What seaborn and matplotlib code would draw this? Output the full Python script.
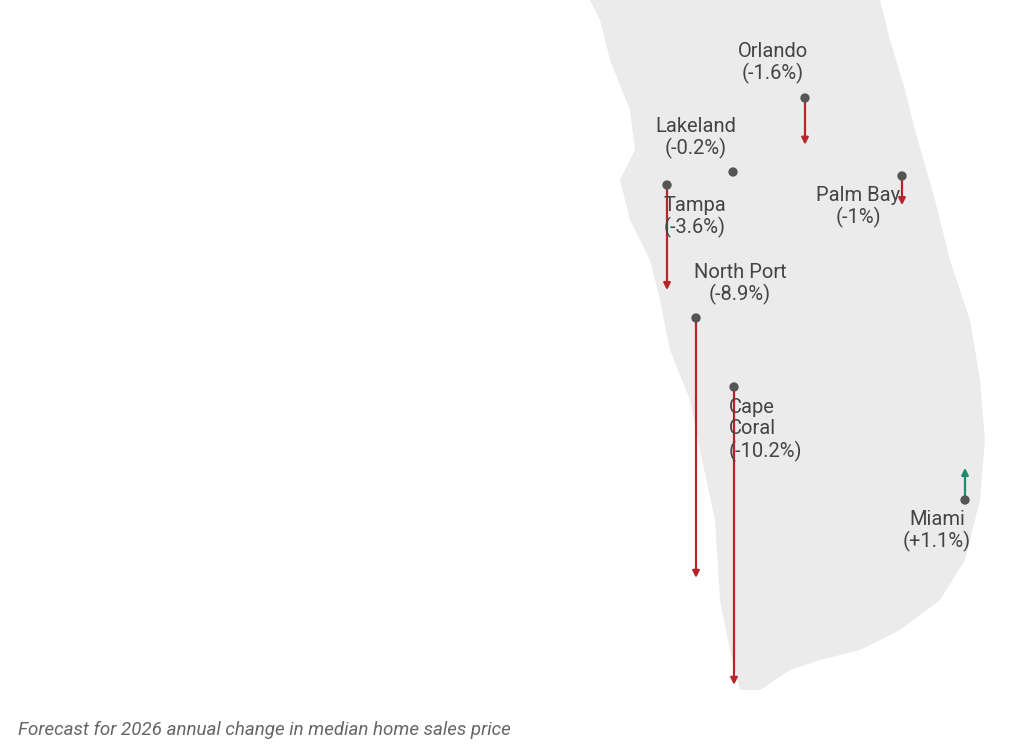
import numpy as np
import pandas as pd
import seaborn as sns
import matplotlib.pyplot as plt
from matplotlib.patches import Polygon

# city data (positions in image pixel space, change in %)
cities = ["Orlando", "Lakeland", "Tampa", "Palm Bay", "North Port", "Cape Coral", "Miami"]
labels = ["Orlando\n(-1.6%)", "Lakeland\n(-0.2%)", "Tampa\n(-3.6%)", "Palm Bay\n(-1%)",
          "North Port\n(-8.9%)", "Cape\nCoral\n(-10.2%)", "Miami\n(+1.1%)"]
city_x = [805, 733, 667, 902, 696, 734, 965]
city_y = [98, 172, 185, 176, 318, 387, 500]
change = [-1.6, -0.2, -3.6, -1.0, -8.9, -10.2, 1.1]
label_x = [773, 696, 695, 858, 740, 729, 937]
label_y = [63, 138, 217, 207, 284, 430, 531]
label_ha = ["center", "center", "center", "center", "center", "left", "center"]

# rough Florida peninsula outline
shape_x = [590, 880, 890, 905, 915, 935, 950, 970, 980, 985, 980, 965, 940, 900, 860, 820, 790, 760,
           740, 730, 720, 715, 700, 690, 670, 660, 650, 630, 620, 635, 630, 610, 600]
shape_y = [0, 0, 40, 90, 130, 200, 260, 320, 380, 440, 500, 560, 600, 630, 650, 660, 670, 690,
           690, 650, 600, 520, 450, 400, 350, 300, 260, 220, 180, 150, 110, 60, 20]

px_per_pct = 29.2

sns.set_theme(style="white")
plt.rcParams["font.family"] = ["Roboto", "DejaVu Sans"]

df = pd.DataFrame({"city": cities, "x": city_x, "y": city_y, "change": change})

fig = plt.figure(figsize=(10.24, 7.46), dpi=100)
ax = fig.add_axes([0, 0, 1, 1])

ax.add_patch(Polygon(np.column_stack([shape_x, shape_y]), closed=True,
                     facecolor="#ebebeb", edgecolor="none", zorder=0))

for _, r in df.iterrows():
    color = "#b5252a" if r["change"] < 0 else "#1f8a70"
    end_y = r["y"] - r["change"] * px_per_pct
    if abs(r["change"]) > 0.3:
        ax.annotate("", xy=(r["x"], end_y), xytext=(r["x"], r["y"]),
                    arrowprops=dict(arrowstyle="-|>", color=color, lw=1.6,
                                    mutation_scale=10, shrinkA=0, shrinkB=0), zorder=2)

sns.scatterplot(data=df, x="x", y="y", ax=ax, color="#555555", s=45,
                edgecolor="none", zorder=3, legend=False)
ax.set_xlim(0, 1024)
ax.set_ylim(746, 0)
ax.axis("off")

for t, lx, ly, ha in zip(labels, label_x, label_y, label_ha):
    ax.text(lx, ly, t, ha=ha, va="center", fontsize=14.5, color="#444444",
            linespacing=1.15, zorder=4)

ax.text(18, 730, "Forecast for 2026 annual change in median home sales price",
        fontsize=13.5, style="italic", color="#666666", va="center")

fig.savefig("out.png", dpi=100)
